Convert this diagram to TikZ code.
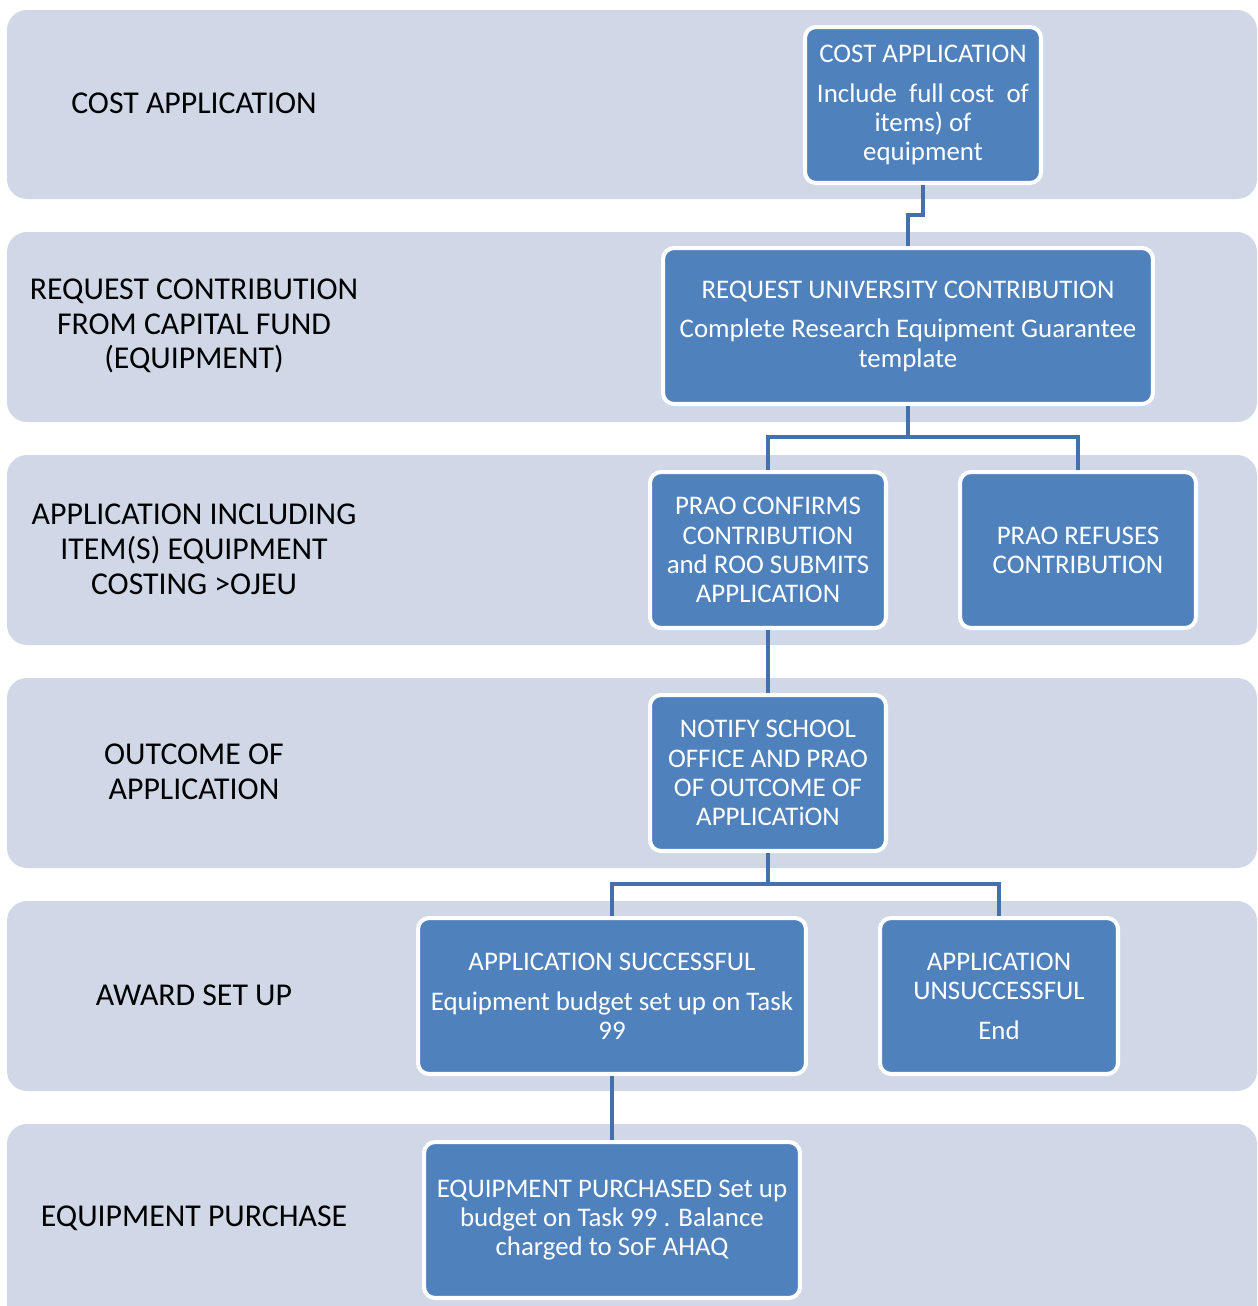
\documentclass[tikz,border=0pt]{standalone}
\usepackage{fontspec}
\setmainfont{Carlito}
\usetikzlibrary{calc}

\definecolor{lanefill}{HTML}{D0D8E8}
\definecolor{boxfill}{HTML}{4F81BD}
\definecolor{linkcol}{HTML}{4471AB}

\begin{document}
\begin{tikzpicture}[x=0.02cm,y=-0.02cm,inner sep=0pt,
    lane/.style={fill=lanefill,rounded corners=0.4cm},
    lanelabel/.style={align=center,text=black,font=\fontsize{18.1}{19.85}\selectfont},
    stepbox/.style={rectangle,rounded corners=0.22cm,fill=boxfill,draw=white,
      line width=2.3pt,text=white,align=center,minimum width=4.72cm,
      minimum height=3.12cm,font=\fontsize{15.3}{16.6}\selectfont},
    link/.style={draw=linkcol,line width=2.8pt}]

      % ganze Seite
      \useasboundingbox (0,0) rectangle (1258,1306);

      % Bahnen
      \fill[lane] (7,10) rectangle (1257,199);
      \fill[lane] (7,232) rectangle (1257,422);
      \fill[lane] (7,455) rectangle (1257,645);
      \fill[lane] (7,678) rectangle (1257,868);
      \fill[lane] (7,901) rectangle (1257,1091);
      \fill[lane] (7,1124) rectangle (1257,1330);

      \node[lanelabel] (lab1) at (194,103) {COST APPLICATION};
      \node[lanelabel] (lab2) at (194,326) {REQUEST CONTRIBUTION\\FROM CAPITAL FUND\\(EQUIPMENT)};
      \node[lanelabel] (lab3) at (194,549) {APPLICATION INCLUDING\\ITEM(S) EQUIPMENT\\COSTING >OJEU};
      \node[lanelabel] (lab4) at (194,772) {OUTCOME OF\\APPLICATION};
      \node[lanelabel] (lab5) at (194,995) {AWARD SET UP};
      \node[lanelabel] (lab6) at (194,1218) {EQUIPMENT PURCHASE};

      % Kaestchen
      \node[stepbox] (cost) at (923,105) {COST APPLICATION\\[6pt]Include\ \ full cost\ \ of\\items) of\\equipment};
      \node[stepbox,minimum width=9.8cm] (request) at (908,326) {REQUEST UNIVERSITY CONTRIBUTION\\[6pt]Complete Research Equipment Guarantee\\template};
      \node[stepbox] (confirm) at (768,550) {PRAO CONFIRMS\\CONTRIBUTION\\and ROO SUBMITS\\APPLICATION};
      \node[stepbox] (refuse) at (1078,550) {PRAO REFUSES\\CONTRIBUTION};
      \node[stepbox] (notify) at (768,773) {NOTIFY SCHOOL\\OFFICE AND PRAO\\OF OUTCOME OF\\APPLICATiON};
      \node[stepbox,minimum width=7.76cm] (success) at (612,996) {APPLICATION SUCCESSFUL\\[6pt]Equipment budget set up on Task\\99};
      \node[stepbox,minimum width=4.76cm] (fail) at (999,996) {APPLICATION\\UNSUCCESSFUL\\[6pt]End};
      \node[stepbox,minimum width=7.52cm] (purchase) at (612,1220) {EQUIPMENT PURCHASED Set up\\budget on Task 99 . Balance\\charged to SoF AHAQ};

      % Verbindungen
      \draw[link] (cost.south) -- ++(0,30) -| (request.north);
      \draw[link] (request.south) -- ++(0,31) coordinate (split1);
      \draw[link] (confirm.north) |- (split1) -| (refuse.north);
      \draw[link] (confirm.south) -- (notify.north);
      \draw[link] (notify.south) -- ++(0,31) coordinate (split2);
      \draw[link] (success.north) |- (split2) -| (fail.north);
      \draw[link] (success.south) -- (purchase.north);
    \end{tikzpicture}
\end{document}
